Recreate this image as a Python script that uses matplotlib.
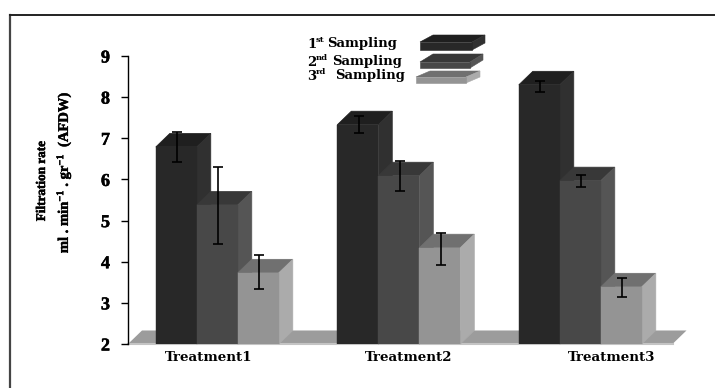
import matplotlib
matplotlib.use("Agg")
import matplotlib.pyplot as plt
import matplotlib.patheffects as pe
import numpy as np

plt.rcParams["font.family"] = ["Liberation Serif", "DejaVu Serif"]
plt.rcParams["font.weight"] = "bold"
plt.rcParams["mathtext.fontset"] = "custom"
plt.rcParams["mathtext.rm"] = "Liberation Serif:bold"
plt.rcParams["mathtext.bf"] = "Liberation Serif:bold"
plt.rcParams["mathtext.default"] = "bf"

treatments = ["Treatment1", "Treatment2", "Treatment3"]
sampling1 = [6.79, 7.33, 8.30]
sampling2 = [5.38, 6.09, 5.97]
sampling3 = [3.73, 4.34, 3.39]
err_top1 = [7.16, 7.55, 8.40]
err_bot1 = [6.43, 7.12, 8.13]
err_top2 = [6.31, 6.45, 6.11]
err_bot2 = [4.43, 5.72, 5.82]
err_top3 = [4.17, 4.70, 3.61]
err_bot3 = [3.34, 3.92, 3.14]
y_ticks = [2, 3, 4, 5, 6, 7, 8, 9]

W, H = 715, 388
heavy = [pe.withStroke(linewidth=0.35, foreground="black")]

fig = plt.figure(figsize=(W / 100, H / 100), dpi=100)
ax = fig.add_axes([128 / W, (H - 344) / H, 544.5 / W, 288 / H])
ax.set_xlim(-0.5, 2.5)
ax.set_ylim(2, 9)

# 3d look: depth of the boxes in data units
dx = 14 / 181.5
dy = 13.5 / 41.1
width = 41 / 181.5
centers = np.arange(3) - 0.008

# floor
ax.fill([-0.5, -0.5 + dx, 2.5 + dx, 2.5], [2, 2 + dy, 2 + dy, 2],
        color="#9c9c9c", lw=0, clip_on=False, zorder=1)
ax.plot([-0.5, 2.5], [2, 2], color="#c4c4c4", lw=1.5, clip_on=False, zorder=1.5)

series = [sampling1, sampling2, sampling3]
tops = [err_top1, err_top2, err_top3]
bots = [err_bot1, err_bot2, err_bot3]
front = ["#282828", "#484848", "#949494"]
roof = ["#1f1f1f", "#383838", "#707070"]
side = ["#303030", "#555555", "#ababab"]

for i, vals in enumerate(series):
    x = centers + (i - 1) * width
    z = 2 + i
    for xi, v in zip(x, vals):
        l, r = xi - width / 2, xi + width / 2
        # edge in the same colour closes the seams between the faces
        ax.fill([l, l + dx, r + dx, r], [v, v + dy, v + dy, v],
                fc=roof[i], ec=roof[i], lw=0.5, clip_on=False, zorder=z)
        ax.fill([r, r + dx, r + dx, r], [2, 2 + dy, v + dy, v],
                fc=side[i], ec=side[i], lw=0.5, clip_on=False, zorder=z)
    ax.bar(x, np.array(vals) - 2, width, bottom=2, color=front[i],
           edgecolor=front[i], lw=0.3, zorder=z)

for i in range(3):
    x = centers + (i - 1) * width + 0.004
    mid = np.array(series[i])
    yerr = [mid - np.array(bots[i]), np.array(tops[i]) - mid]
    ax.errorbar(x, mid, yerr=yerr, fmt="none", ecolor="black", elinewidth=1.2,
                capsize=3.6, capthick=1.2, zorder=10)

for s in ["top", "right", "bottom"]:
    ax.spines[s].set_visible(False)
ax.spines["left"].set_linewidth(1.0)
ax.set_yticks(y_ticks)
ax.tick_params(axis="y", length=5, width=1, pad=8, labelsize=13)
for t in ax.get_yticklabels():
    t.set_path_effects(heavy)
ax.set_xticks(np.arange(3) + np.array([-0.055, 0.045, 0.165]))
ax.set_xticklabels(treatments, fontsize=9.6, family="DejaVu Serif")
ax.tick_params(axis="x", length=0, pad=5)
ax.patch.set_alpha(0)

# overlay in pixel coordinates for frame, axis title and legend
ov = fig.add_axes([0, 0, 1, 1], zorder=-1)
ov.set_xlim(0, W)
ov.set_ylim(H, 0)
ov.axis("off")
ov.plot([10, 10], [H, 15], color="#444444", lw=1.6)
ov.plot([10, W], [15, 15], color="#222222", lw=1.4)

ov.text(42, 181, "Filtration rate", rotation=90, ha="center", va="center",
        fontsize=9.5, path_effects=heavy)
ov.text(64, 172, r"ml . min$^{-1}$ . gr$^{-1}$  (AFDW)", rotation=90,
        ha="center", va="center", fontsize=10.5, path_effects=heavy)

legend_num = ["1", "2", "3"]
legend_sup = ["st", "nd", "rd"]
legend_x = [327, 332, 335]
legend_y = [44, 62, 76]
boxes = [(420, 472, 50, 42, 13, 7), (420, 470, 68, 62, 13, 8), (416, 466, 83, 77, 14, 6)]
for i in range(3):
    ov.text(307, legend_y[i], legend_num[i], ha="left", va="center", fontsize=9.5, family="DejaVu Serif")
    ov.text(316, legend_y[i] - 4, legend_sup[i], ha="left", va="center", fontsize=6, family="DejaVu Serif")
    ov.text(legend_x[i], legend_y[i], "Sampling", ha="left", va="center", fontsize=9.5, family="DejaVu Serif")
    l, r, b, t, ddx, ddy = boxes[i]
    ov.fill([l, l + ddx, r + ddx, r], [t, t - ddy, t - ddy, t], fc=roof[i], ec=roof[i], lw=0.4)
    ov.fill([r, r + ddx, r + ddx, r], [b, b - ddy, t - ddy, t], fc=side[i], ec=side[i], lw=0.4)
    ov.fill([l, r, r, l], [b, b, t, t], fc=front[i], ec=front[i], lw=0.4)

fig.savefig("out.png", dpi=100)
